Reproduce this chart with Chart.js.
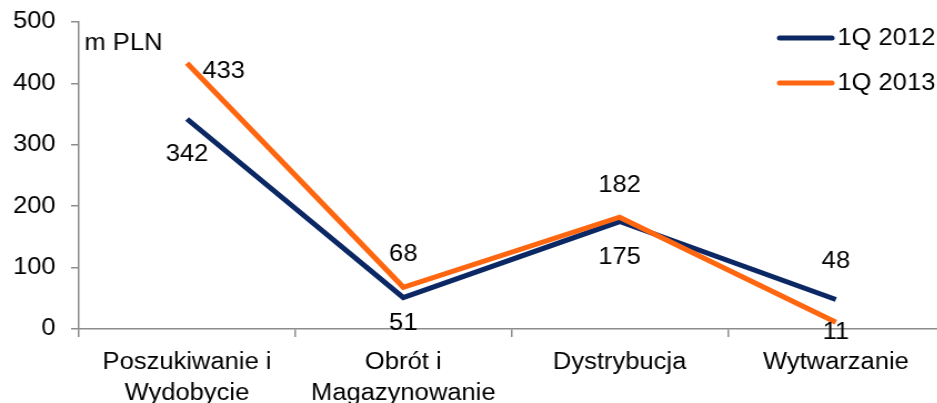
<!DOCTYPE html>
<html>
<head>
<meta charset="utf-8">
<script src="https://cdn.jsdelivr.net/npm/chart.js@4/dist/chart.umd.min.js"></script>
<style>
  html, body { margin: 0; padding: 0; background: #fff; overflow: hidden; }
  #wykres { display: block; }
</style>
</head>
<body>
<canvas id="wykres" width="850" height="403" style="width:944px;height:403px"></canvas>
<script>
// Dane wykresu
const kategorie = [['Poszukiwanie i', 'Wydobycie'], ['Obrót i', 'Magazynowanie'], 'Dystrybucja', 'Wytwarzanie'];
const wartosci2012 = [342, 51, 175, 48];
const wartosci2013 = [433, 68, 182, 11];
const etykietyY = [0, 100, 200, 300, 400, 500];

const FONT = '"Liberation Sans", Arial, sans-serif';
const GRANAT = '#0c2864';
const POMARANCZ = '#ff6610';
const SZARY = '#8c8c8c';

// przesuniecia etykiet wartosci (dx, dy) wzgledem punktu
const przesuniecia = {
  '1Q 2012': [[0, 36], [0, 26], [0, 36], [0, -38]],
  '1Q 2013': [[33, 9], [0, -33], [0, -32], [0, 10]]
};

const etykietyPlugin = {
  id: 'etykiety',
  afterDatasetsDraw(chart) {
    const ctx = chart.ctx;
    ctx.save();
    ctx.font = '23px ' + FONT;
    ctx.fillStyle = '#000';
    ctx.textAlign = 'center';
    ctx.textBaseline = 'middle';
    chart.data.datasets.forEach((ds, i) => {
      const meta = chart.getDatasetMeta(i);
      meta.data.forEach((pt, j) => {
        const off = przesuniecia[ds.label][j];
        ctx.fillText(ds.data[j], pt.x + off[0], pt.y + off[1]);
      });
    });

    // jednostka
    ctx.textAlign = 'left';
    ctx.fillText('m PLN', 76, 44);

    // legenda
    chart.data.datasets.slice().reverse().forEach((ds, i) => {
      const y = 38 + i * 45;
      ctx.strokeStyle = ds.borderColor;
      ctx.lineWidth = 5;
      ctx.lineCap = 'round';
      ctx.beginPath();
      ctx.moveTo(702, y);
      ctx.lineTo(749, y);
      ctx.stroke();
      ctx.fillText(ds.label, 754, y + 1);
    });
    ctx.restore();
  }
};

const config = {
  type: 'line',
  data: {
    labels: kategorie,
    datasets: [{
      label: '1Q 2013',
      data: wartosci2013,
      borderColor: POMARANCZ,
      backgroundColor: POMARANCZ,
      borderWidth: 5,
      pointRadius: 0,
      tension: 0,
      order: 0
    }, {
      label: '1Q 2012',
      data: wartosci2012,
      borderColor: GRANAT,
      backgroundColor: GRANAT,
      borderWidth: 5,
      pointRadius: 0,
      tension: 0,
      order: 1
    }]
  },
  options: {
    responsive: false,
    animation: false,
    devicePixelRatio: 1,
    layout: { padding: { top: 22, left: 0, right: 0, bottom: 0 } },
    plugins: {
      legend: { display: false },
      tooltip: { enabled: false }
    },
    scales: {
      x: {
        offset: true,
        afterFit(scale) { scale.height = 74; },
        grid: {
          offset: true,
          drawOnChartArea: false,
          tickLength: 8,
          color: SZARY,
          lineWidth: 1.5
        },
        border: { color: SZARY, width: 1.5 },
        ticks: {
          color: '#000',
          padding: 10,
          maxRotation: 0,
          autoSkip: false,
          font: { family: FONT, size: 23, lineHeight: 1.35 }
        }
      },
      y: {
        min: 0,
        max: 500,
        afterFit(scale) {
          scale.width = 71;
          scale.paddingTop = 0;
          scale.paddingBottom = 0;
        },
        afterBuildTicks(scale) { scale.ticks = etykietyY.map(v => ({ value: v })); },
        grid: {
          drawOnChartArea: false,
          tickLength: 7,
          color: SZARY,
          lineWidth: 1.5
        },
        border: { color: SZARY, width: 1.5 },
        ticks: {
          color: '#000',
          padding: 14,
          font: { family: FONT, size: 23 }
        }
      }
    }
  },
  plugins: [etykietyPlugin]
};

let wykres = new Chart(document.getElementById('wykres'), config);
</script>
</body>
</html>
